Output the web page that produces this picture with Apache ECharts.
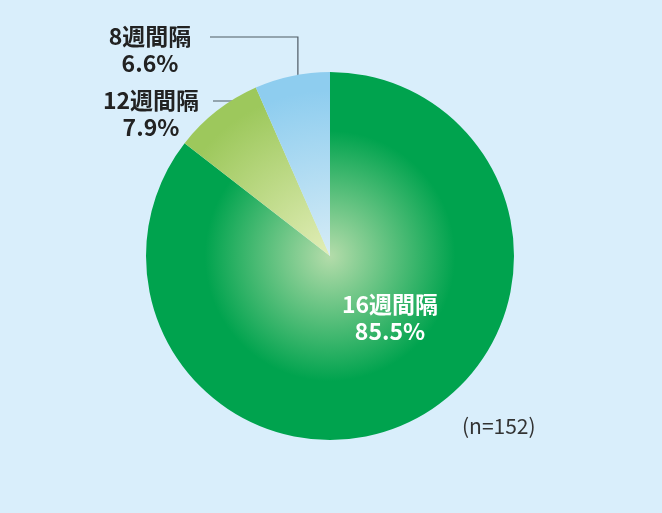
<!DOCTYPE html>
<html><head><meta charset="utf-8">
<script src="https://cdn.jsdelivr.net/npm/echarts@6/dist/echarts.min.js"></script>
<style>html,body{margin:0;padding:0;background:#d9eefb;}#c{width:662px;height:513px;}</style>
</head><body><div id="c"></div>
<script>
const categories = ['16週間隔', '12週間隔', '8週間隔'];
const values = [85.5, 7.9, 6.6];
const noteText = '(n=152)';

const CX = 330, CY = 256, R = 184;
function grad(inner, outer, stop) {
  return {type:'radial', x:CX, y:CY, r:R, global:true,
    colorStops:[{offset:0,color:inner},{offset:stop,color:outer},{offset:1,color:outer}]};
}
const fills = [grad('#b4dcaa', '#00a34e', 0.68), grad('#e2eeb8', '#9dc85c', 0.9), grad('#d6ecf6', '#8ecdef', 0.9)];

const total = values.reduce((a,b)=>a+b,0);
function midAngle(i){ // degrees clockwise from top
  let s = 0; for (let k=0;k<i;k++) s += values[k];
  return (s + values[i]/2) / total * 360;
}
function ptAt(i, r){
  const a = midAngle(i) * Math.PI/180;
  return [CX + r*Math.sin(a), CY - r*Math.cos(a)];
}
// label anchor positions (label layout, not marks)
const labelPos = [[390, 318], [151, 114], [150, 50]];
const lineElbowY = [null, 101, 37];
const lineEndX = [null, 213, 210];

const chart = echarts.init(document.getElementById('c'), null, {renderer:'canvas'});
chart.setOption({
  backgroundColor:'#d9eefb',
  animation:false,
  title:{text:noteText, left:457, top:411, textStyle:{fontFamily:'Noto Sans CJK JP', fontSize:21, fontWeight:'normal', color:'#333'}},
  series:[{
    type:'pie', center:[CX, CY], radius:[0, R], startAngle:90, clockwise:true,
    silent:true,
    data: categories.map((c,i)=>({name:c, value:values[i], itemStyle:{color:fills[i]},
      label:{color: i===0 ? '#ffffff' : '#222222'},
      labelLine:{show: i!==0}})),
    label:{show:true, position:'outside', formatter:(p)=>p.name+'\n'+p.value.toFixed(1)+'%',
      fontFamily:'Noto Sans CJK JP', fontSize:23, fontWeight:'bold', lineHeight:27, align:'center'},
    labelLine:{show:true, lineStyle:{color:'#4f5a63', width:1.2}, length:10, length2:10},
    labelLayout:function(p){
      const i = p.dataIndex;
      const res = {x: labelPos[i][0], y: labelPos[i][1], align:'center', verticalAlign:'middle'};
      if (i !== 0) {
        const s = ptAt(i, 156);
        res.labelLinePoints = [[s[0], s[1]], [s[0], lineElbowY[i]], [lineEndX[i], lineElbowY[i]]];
      }
      return res;
    }
  }]
});
</script></body></html>
